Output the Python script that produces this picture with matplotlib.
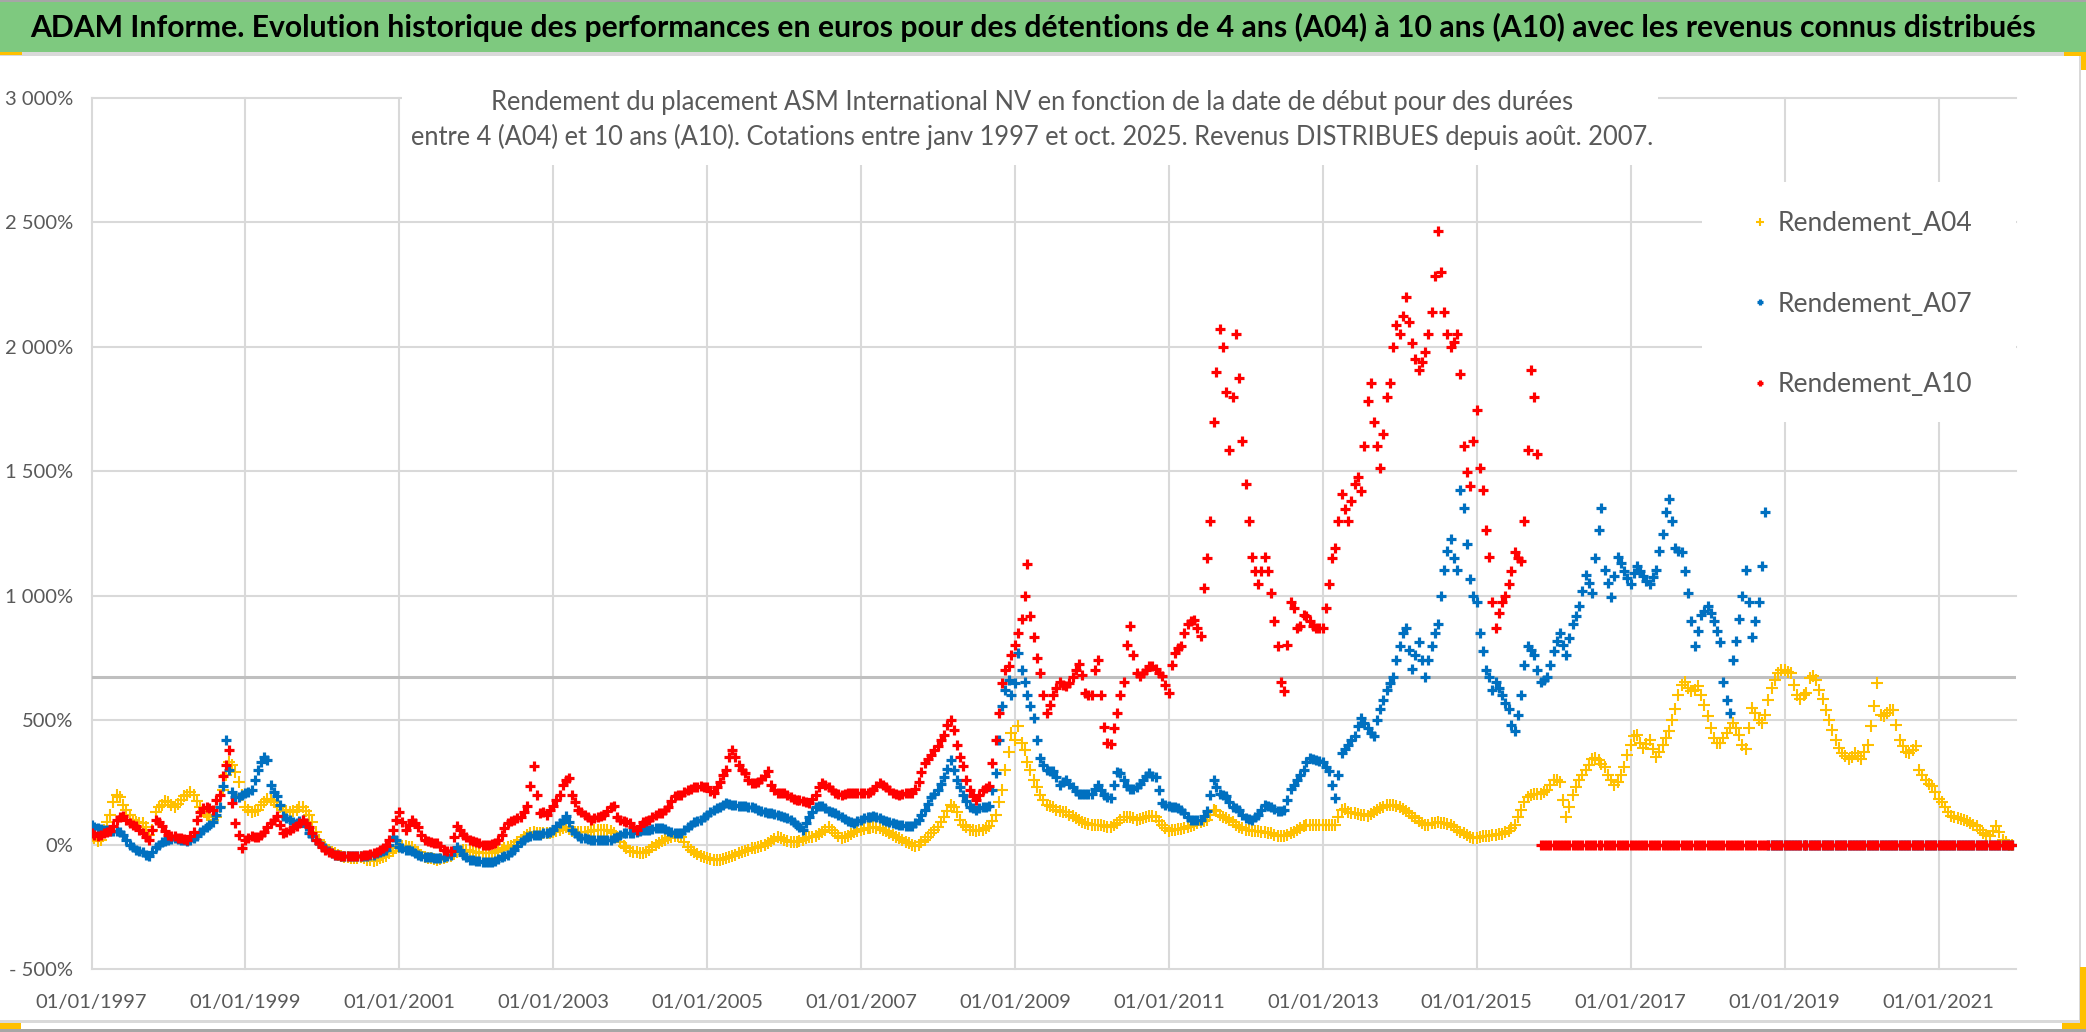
import matplotlib
matplotlib.use("Agg")
import matplotlib.pyplot as plt
from matplotlib.patches import Rectangle
import pandas as pd

plt.rcParams['font.family'] = ['Lato', 'DejaVu Sans']

# start dates: readings on the 1st and on the 15th of each month, Jan 1997 .. Dec 2021
dates = pd.date_range("1997-01-01", "2021-12-01", freq="MS")
dates_mid = dates + pd.Timedelta(days=14)

# rendement en % (1st of the month)
a04 = [
    40, 15, 60, 120, 200, 160, 120, 90, 85, 40, 130, 160,          # 1997
    170, 150, 180, 200, 200, 150, 120, 100, 150, 280, 320, 250,    # 1998
    150, 130, 140, 170, 180, 160, 140, 130, 140, 150, 120, 50,     # 1999
    0, -20, -35, -45, -50, -55, -50, -60, -65, -55, -45, -25,      # 2000
    -10, -5, -10, -30, -50, -55, -60, -55, -45, -30, -20, -25,     # 2001
    -30, -35, -35, -30, -20, -10, 0, 20, 40, 50, 45, 45,           # 2002
    50, 60, 70, 55, 50, 50, 55, 60, 60, 55, 30, -5,                # 2003
    -25, -30, -35, -20, 0, 15, 25, 35, 30, -10, -30, -45,          # 2004
    -55, -60, -60, -55, -45, -35, -25, -15, -10, 0, 15, 30,        # 2005
    20, 10, 10, 20, 30, 35, 50, 70, 45, 25, 35, 50,                # 2006
    60, 65, 70, 65, 55, 40, 25, 10, 0, 0, 20, 45,                  # 2007
    70, 110, 160, 130, 80, 60, 55, 60, 75, 120, 220, 370,          # 2008
    420, 410, 330, 260, 200, 160, 150, 135, 130, 115, 100, 85,     # 2009
    80, 80, 75, 72, 85, 110, 110, 100, 105, 115, 110, 80,          # 2010
    55, 60, 62, 70, 80, 90, 98, 140, 120, 105, 90, 70,             # 2011
    60, 55, 53, 50, 45, 35, 35, 45, 60, 75, 80, 80,                # 2012
    80, 80, 80, 140, 130, 125, 120, 116, 130, 145, 160, 160,       # 2013
    150, 135, 116, 95, 78, 85, 89, 85, 80, 60, 45, 30,             # 2014
    26, 35, 35, 40, 44, 55, 80, 140, 190, 205, 205, 220,           # 2015
    259, 250, 110, 200, 260, 300, 345, 340, 310, 260, 250, 310,    # 2016
    400, 440, 390, 420, 350, 400, 456, 546, 640, 630, 620, 600,    # 2017
    516, 430, 410, 450, 490, 440, 385, 550, 500, 520, 630, 690,    # 2018
    700, 690, 600, 600, 670, 660, 583, 502, 420, 368, 342, 368,    # 2019
    342, 400, 556, 520, 530, 540, 422, 370, 380, 301, 260, 234,    # 2020
    185, 150, 114, 105, 100, 85, 74, 45, 34, 74, 20, 0,            # 2021
]
# same, 15th of the month
a04_mid = [
    25, 20, 90, 170, 190, 140, 100, 85, 70, 60, 150, 175,          # 1997
    160, 165, 195, 210, 175, 135, 110, 110, 220, 330, 290, 200,    # 1998
    140, 135, 160, 185, 170, 150, 135, 135, 150, 135, 90, 20,      # 1999
    -10, -30, -40, -48, -52, -55, -55, -62, -60, -50, -35, -15,    # 2000
    -5, -8, -20, -40, -55, -58, -58, -50, -38, -25, -22, -28,      # 2001
    -33, -35, -33, -25, -15, -5, 10, 30, 45, 48, 45, 48,           # 2002
    55, 65, 62, 52, 50, 52, 58, 60, 58, 45, 10, -15,               # 2003
    -28, -33, -28, -10, 8, 20, 30, 35, 10, -20, -38, -50,          # 2004
    -58, -60, -58, -50, -40, -30, -20, -12, -5, 8, 22, 25,         # 2005
    15, 10, 15, 25, 32, 42, 60, 58, 35, 30, 42, 55,                # 2006
    62, 68, 68, 60, 48, 32, 18, 5, -5, 10, 32, 58,                 # 2007
    90, 135, 150, 100, 70, 58, 58, 68, 95, 170, 300, 450,          # 2008
    475, 380, 300, 230, 180, 155, 140, 132, 120, 108, 92, 82,      # 2009
    80, 78, 72, 78, 98, 112, 105, 102, 110, 114, 95, 65,           # 2010
    58, 62, 66, 75, 85, 95, 120, 135, 110, 98, 80, 65,             # 2011
    58, 54, 52, 48, 40, 35, 40, 52, 68, 78, 80, 80,                # 2012
    80, 80, 110, 143, 128, 122, 118, 122, 138, 152, 160, 155,      # 2013
    142, 125, 105, 85, 80, 88, 87, 82, 70, 52, 38, 28,             # 2014
    30, 35, 38, 42, 50, 65, 110, 170, 200, 205, 212, 240,          # 2015
    259, 180, 150, 230, 280, 320, 349, 325, 280, 241, 280, 360,    # 2016
    438, 410, 405, 385, 370, 430, 500, 600, 654, 618, 636, 560,    # 2017
    470, 409, 430, 470, 470, 400, 470, 530, 489, 580, 660, 703,    # 2018
    695, 640, 583, 609, 676, 620, 540, 460, 390, 355, 350, 355,    # 2019
    370, 475, 650, 516, 542, 480, 395, 368, 395, 280, 245, 210,    # 2020
    170, 130, 110, 101, 95, 80, 60, 40, 55, 50, 10, 0,             # 2021
]

a07 = [
    80, 65, 60, 55, 55, 40, 0, -20, -30, -45, -10, 10,             # 1997
    20, 25, 20, 15, 25, 50, 70, 90, 150, 420, 210, 190,            # 1998
    207, 220, 300, 350, 240, 195, 115, 100, 87, 100, 47, 20,       # 1999
    -5, -25, -40, -45, -47, -47, -47, -45, -40, -30, -20, 30,      # 2000
    -10, -20, -25, -40, -50, -50, -55, -50, -40, -10, -40, -60,    # 2001
    -65, -70, -72, -65, -50, -40, -20, 10, 30, 40, 40, 47,         # 2002
    60, 87, 114, 60, 33, 25, 20, 20, 20, 20, 30, 47,               # 2003
    47, 50, 60, 60, 65, 67, 55, 47, 47, 70, 90, 100,               # 2004
    120, 140, 150, 167, 160, 155, 154, 150, 140, 130, 127, 120,    # 2005
    110, 100, 80, 60, 110, 150, 154, 135, 127, 110, 95, 87,        # 2006
    100, 110, 114, 105, 95, 87, 80, 75, 73, 100, 140, 190,         # 2007
    221, 270, 341, 260, 200, 150, 140, 150, 154, 288, 556, 663,    # 2008
    650, 700, 600, 510, 349, 300, 295, 241, 259, 230, 205, 205,    # 2009
    205, 241, 200, 187, 290, 260, 223, 230, 260, 286, 270, 169,    # 2010
    154, 150, 140, 110, 98, 100, 134, 259, 205, 194, 152, 140,     # 2011
    107, 100, 120, 160, 150, 134, 140, 223, 260, 300, 349, 340,    # 2012
    331, 295, 187, 367, 400, 438, 510, 470, 438, 546, 620, 672,    # 2013
    797, 869, 707, 815, 672, 797, 887, 1102, 1227, 1102, 1353, 1066,       # 2014
    976, 779, 672, 654, 600, 546, 456, 600, 797, 761, 654, 672,            # 2015
    779, 851, 761, 887, 958, 1084, 1012, 1263, 1102, 994, 1156, 1100,      # 2016
    1048, 1120, 1080, 1048, 1102, 1250, 1389, 1191, 1174, 1012, 797, 923,  # 2017
    958, 900, 815, 582, 743, 905, 1102, 833, 976, 1335, 0, 0,      # 2018
    0, 0, 0, 0, 0, 0, 0, 0, 0, 0, 0, 0,                            # 2019
    0, 0, 0, 0, 0, 0, 0, 0, 0, 0, 0, 0,                            # 2020
    0, 0, 0, 0, 0, 0, 0, 0, 0, 0, 0, 0,                            # 2021
]
a07_mid = [
    70, 62, 58, 55, 50, 20, -10, -25, -40, -30, 0, 15,             # 1997
    22, 22, 18, 20, 35, 60, 80, 120, 235, 300, 190, 200,           # 1998
    210, 260, 330, 340, 210, 160, 105, 92, 95, 75, 33, 5,          # 1999
    -15, -33, -43, -47, -47, -47, -46, -42, -35, -25, 0, 20,       # 2000
    -15, -22, -33, -45, -50, -52, -52, -45, -25, -20, -50, -62,    # 2001
    -68, -72, -70, -58, -45, -30, -5, 20, 35, 40, 45, 52,          # 2002
    75, 100, 90, 45, 28, 22, 20, 20, 20, 25, 38, 47,               # 2003
    48, 55, 60, 62, 67, 62, 50, 47, 58, 80, 95, 110,               # 2004
    130, 145, 160, 165, 158, 154, 152, 145, 135, 128, 124, 115,    # 2005
    105, 90, 70, 85, 130, 154, 145, 130, 118, 102, 90, 93,         # 2006
    105, 112, 110, 100, 90, 84, 78, 74, 85, 120, 165, 205,         # 2007
    245, 305, 300, 230, 175, 145, 145, 152, 220, 420, 620, 600,    # 2008
    770, 654, 555, 420, 320, 295, 270, 250, 245, 215, 205, 205,    # 2009
    225, 220, 190, 240, 288, 234, 225, 245, 274, 274, 220, 160,    # 2010
    152, 145, 125, 100, 98, 115, 200, 230, 200, 170, 145, 120,     # 2011
    103, 110, 140, 155, 142, 136, 180, 240, 280, 330, 345, 335,    # 2012
    310, 240, 280, 385, 420, 475, 490, 450, 500, 580, 650, 740,    # 2013
    850, 780, 760, 740, 740, 850, 1000, 1180, 1150, 1425, 1209, 1000,      # 2014
    850, 700, 620, 630, 570, 480, 520, 720, 780, 700, 660, 720,            # 2015
    820, 800, 830, 920, 1020, 1050, 1150, 1353, 1050, 1080, 1130, 1070,    # 2016
    1090, 1100, 1060, 1075, 1180, 1335, 1300, 1180, 1100, 900, 860, 940,   # 2017
    930, 860, 654, 528, 820, 1000, 976, 900, 1120, 0, 0, 0,        # 2018
    0, 0, 0, 0, 0, 0, 0, 0, 0, 0, 0, 0,                            # 2019
    0, 0, 0, 0, 0, 0, 0, 0, 0, 0, 0, 0,                            # 2020
    0, 0, 0, 0, 0, 0, 0, 0, 0, 0, 0, 0,                            # 2021
]

a10 = [
    45, 33, 47, 53, 100, 114, 87, 73, 47, 20, 100, 73,             # 1997
    40, 33, 25, 20, 50, 130, 150, 140, 200, 320, 167, 40,          # 1998
    20, 33, 30, 50, 87, 114, 47, 60, 73, 100, 70, 20,              # 1999
    -10, -30, -40, -45, -47, -45, -45, -40, -35, -20, -5, 60,      # 2000
    130, 60, 100, 70, 20, 10, 5, -20, -25, 73, 40, 20,             # 2001
    10, 0, 0, 5, 40, 87, 100, 110, 154, 315, 127, 120,             # 2002
    154, 200, 260, 200, 140, 120, 100, 110, 120, 150, 110, 95,     # 2003
    87, 60, 90, 100, 120, 127, 150, 194, 200, 221, 230, 234,       # 2004
    230, 207, 250, 301, 382, 320, 288, 248, 250, 274, 240, 207,    # 2005
    207, 190, 180, 175, 167, 200, 248, 230, 207, 200, 207, 207,    # 2006
    207, 207, 220, 247, 230, 207, 200, 207, 207, 250, 328, 360,    # 2007
    395, 440, 502, 400, 314, 221, 181, 221, 234, 420, 650, 716,    # 2008
    800, 905, 1129, 833, 690, 528, 600, 654, 636, 672, 725, 609,   # 2009
    600, 743, 474, 403, 528, 654, 877, 690, 690, 716, 707, 676,    # 2010
    609, 770, 797, 887, 904, 837, 1150, 1700, 2070, 1819, 1800, 1873,       # 2011
    1450, 1156, 1048, 1156, 1012, 797, 618, 976, 869, 923, 900, 869,        # 2012
    869, 1048, 1191, 1407, 1299, 1450, 1420, 1783, 1700, 1514, 1800, 2000,  # 2013
    2052, 2200, 2016, 1909, 1980, 2142, 2464, 2142, 1998, 2052, 1600, 1442, # 2014
    1747, 1425, 1156, 869, 976, 1048, 1174, 1138, 1586, 1800, 0, 0,         # 2015
    0, 0, 0, 0, 0, 0, 0, 0, 0, 0, 0, 0,                            # 2016
    0, 0, 0, 0, 0, 0, 0, 0, 0, 0, 0, 0,                            # 2017
    0, 0, 0, 0, 0, 0, 0, 0, 0, 0, 0, 0,                            # 2018
    0, 0, 0, 0, 0, 0, 0, 0, 0, 0, 0, 0,                            # 2019
    0, 0, 0, 0, 0, 0, 0, 0, 0, 0, 0, 0,                            # 2020
    0, 0, 0, 0, 0, 0, 0, 0, 0, 0, 0, 0,                            # 2021
]
a10_mid = [
    40, 40, 50, 75, 110, 100, 80, 60, 30, 60, 90, 55,              # 1997
    35, 28, 22, 35, 100, 145, 145, 180, 274, 382, 87, -13,         # 1998
    28, 32, 40, 70, 100, 80, 50, 65, 85, 87, 45, 5,                # 1999
    -20, -35, -43, -46, -46, -45, -43, -38, -28, -12, 20, 100,     # 2000
    90, 80, 85, 40, 15, 7, -5, -27, 30, 60, 30, 15,                # 2001
    5, 0, 2, 20, 65, 95, 105, 130, 234, 200, 130, 140,             # 2002
    180, 240, 268, 170, 130, 110, 105, 115, 135, 154, 100, 90,     # 2003
    70, 75, 95, 110, 125, 140, 175, 200, 210, 225, 232, 232,       # 2004
    215, 230, 280, 350, 350, 300, 260, 248, 265, 294, 220, 207,    # 2005
    200, 185, 178, 170, 185, 230, 240, 218, 203, 203, 207, 207,    # 2006
    207, 212, 235, 240, 218, 203, 203, 207, 225, 290, 345, 380,    # 2007
    420, 480, 460, 350, 260, 195, 200, 228, 328, 529, 703, 760,    # 2008
    850, 1000, 917, 750, 600, 560, 630, 640, 650, 700, 680, 600,   # 2009
    700, 600, 408, 470, 600, 800, 760, 676, 700, 716, 690, 640,    # 2010
    720, 790, 850, 900, 870, 1030, 1299, 1900, 2000, 1586, 2052, 1622,      # 2011
    1300, 1100, 1100, 1100, 900, 654, 800, 950, 880, 920, 880, 870,         # 2012
    950, 1150, 1300, 1350, 1380, 1478, 1600, 1855, 1600, 1650, 1855, 2088,  # 2013
    2124, 2100, 1950, 1940, 2050, 2285, 2300, 2050, 2020, 1891, 1496, 1622, # 2014
    1514, 1263, 976, 930, 1000, 1100, 1150, 1299, 1909, 1568, 0, 0,         # 2015
    0, 0, 0, 0, 0, 0, 0, 0, 0, 0, 0, 0,                            # 2016
    0, 0, 0, 0, 0, 0, 0, 0, 0, 0, 0, 0,                            # 2017
    0, 0, 0, 0, 0, 0, 0, 0, 0, 0, 0, 0,                            # 2018
    0, 0, 0, 0, 0, 0, 0, 0, 0, 0, 0, 0,                            # 2019
    0, 0, 0, 0, 0, 0, 0, 0, 0, 0, 0, 0,                            # 2020
    0, 0, 0, 0, 0, 0, 0, 0, 0, 0, 0, 0,                            # 2021
]

series_names = ["Rendement_A04", "Rendement_A07", "Rendement_A10"]
ref_level = 672   # grey horizontal line

yticks = [-500, 0, 500, 1000, 1500, 2000, 2500, 3000]
ytick_labels = ["- 500%", "0%", "500%", "1 000%", "1 500%", "2 000%", "2 500%", "3 000%"]
xtick_years = list(range(1997, 2022, 2))

title = ("ADAM Informe. Evolution historique des performances en euros pour des "
         "détentions de 4 ans (A04) à 10 ans (A10) avec les revenus connus distribués")
subtitle = ("Rendement du placement ASM International NV en fonction de la date de début pour des durées\n"
            "entre 4 (A04) et 10 ans (A10). Cotations entre janv 1997 et oct. 2025. "
            "Revenus DISTRIBUES depuis août. 2007.")

W, H = 2086, 1032
fig = plt.figure(figsize=(W / 100, H / 100), dpi=100)
fig.patch.set_facecolor("white")


def px_rect(x0, y0, x1, y1, color):
    # rectangle given in figure pixels (origin top left)
    fig.add_artist(Rectangle((x0 / W, 1 - y1 / H), (x1 - x0) / W, (y1 - y0) / H,
                             transform=fig.transFigure, facecolor=color,
                             edgecolor="none", zorder=0))


# frame and green banner
px_rect(0, 0, W, 2, "#a6a6a6")
px_rect(0, 2, W, 52, "#7ec97f")
px_rect(0, 52, W, 56, "#d9d9d9")
px_rect(0, 52, 22, 55, "#ffc000")
px_rect(2064, 52, W, 56, "#ffc000")
px_rect(2080, 52, W, 70, "#ffc000")
px_rect(2079, 56, 2081, 1022, "#d9d9d9")
px_rect(0, 1020, W, 1023, "#d9d9d9")
px_rect(0, 1029, W, 1032, "#a6a6a6")
px_rect(0, 1023, 21, 1029, "#ffc000")
px_rect(2080, 967, W, 1029, "#ffc000")
px_rect(2062, 1023, W, 1029, "#ffc000")

fig.text(1033 / W, 1 - 27 / H, title, ha="center", va="center",
         fontsize=21.7, fontweight="bold", color="black")

ax = fig.add_axes([91.5 / W, 1 - 969 / H, 1924 / W, 871 / H])
ax.set_facecolor("none")

all_dates = list(dates) + list(dates_mid)
styles = [("#ffc000", 8.5, 1.5, a04 + a04_mid),
          ("#0070c0", 7.2, 2.3, a07 + a07_mid),
          ("#ff0000", 7.2, 2.3, a10 + a10_mid)]
for (color, ms, mew, values), name in zip(styles, series_names):
    ax.plot(all_dates, values, linestyle="none", marker="+", ms=ms, mew=mew,
            color=color, label=name, zorder=3)

ax.axhline(ref_level, color="#bfbfbf", lw=2.2, zorder=1)

ax.set_xlim(pd.Timestamp("1997-01-01"), pd.Timestamp("2022-01-01"))
ax.set_ylim(-500, 3000)
ax.set_yticks(yticks)
ax.set_yticklabels(ytick_labels)
ax.set_xticks([pd.Timestamp(f"{y}-01-01") for y in xtick_years])
ax.set_xticklabels([f"01/01/{y}" for y in xtick_years])
ax.tick_params(axis="both", length=0, colors="#595959", labelsize=14.5)
ax.tick_params(axis="y", pad=13)
ax.tick_params(axis="x", pad=18)
for s in ax.spines.values():
    s.set_visible(False)
ax.set_axisbelow(True)
ax.grid(True, color="#d9d9d9", lw=1.5, clip_on=False)

# white boxes of the chart title and of the legend, hiding the grid
ax.add_patch(Rectangle(((402 - 91.5) / 1924, (969 - 165) / 871), (1658 - 402) / 1924,
                       (165 - 88) / 871, transform=ax.transAxes, facecolor="white",
                       edgecolor="none", zorder=1.5, clip_on=False))
ax.add_patch(Rectangle(((1702 - 91.5) / 1924, (969 - 422) / 871), (2016 - 1702) / 1924,
                       (422 - 182) / 871, transform=ax.transAxes, facecolor="white",
                       edgecolor="none", zorder=1.5, clip_on=False))

fig.text(1032 / W, 1 - 120 / H, subtitle, ha="center", va="center",
         multialignment="center", fontsize=18.4, color="#595959", linespacing=1.45)

leg = ax.legend(loc="upper left", bbox_to_anchor=(1739 / W, 1 - 198 / H),
                bbox_transform=fig.transFigure, frameon=False, fontsize=19,
                markerscale=0.65, handlelength=0.6, handletextpad=0.35,
                borderpad=0, labelspacing=2.1)
for t in leg.get_texts():
    t.set_color("#595959")

fig.savefig("out.png", dpi=100)
